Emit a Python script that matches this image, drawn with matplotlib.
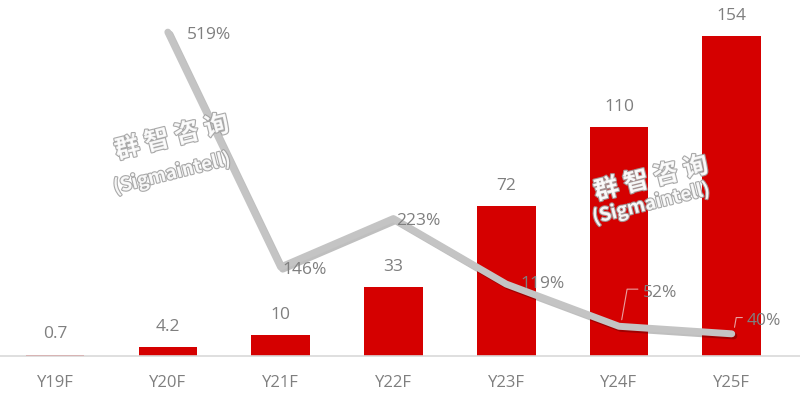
import numpy as np
import matplotlib

matplotlib.use("Agg")
import matplotlib.pyplot as plt
import matplotlib.patheffects as pe

plt.rcParams["font.family"] = ["Open Sans", "Noto Sans CJK SC", "DejaVu Sans"]

years = ["Y19F", "Y20F", "Y21F", "Y22F", "Y23F", "Y24F", "Y25F"]
shipments = [0.7, 4.2, 10, 33, 72, 110, 154]
growth = [519, 146, 223, 119, 52, 40]   # Y20F .. Y25F
growth_labels = ["519%", "146%", "223%", "119%", "52%", "40%"]

RED = "#d50000"
GREY_TXT = "#7f7f7f"
LINE = "#c4c4c4"

fig = plt.figure(figsize=(8.0, 4.03), dpi=100)
ax = fig.add_axes([0, 47 / 403, 1, 356 / 403])
x = np.arange(len(years))

ax.bar(x, shipments, width=0.52, color=RED, zorder=2)
for xi, v in zip(x, shipments):
    ax.text(xi, v + 5.8, f"{v:g}", ha="center", va="bottom", fontsize=12.5,
            color=GREY_TXT)

ax.set_xlim(-0.488, 6.605)
ax.set_ylim(0, 171.3)
for s in ("top", "right", "left"):
    ax.spines[s].set_visible(False)
ax.spines["bottom"].set_color("#d9d9d9")
ax.spines["bottom"].set_linewidth(1.2)
ax.set_yticks([])
ax.set_xticks(x)
ax.set_xticklabels(years, fontsize=12, color=GREY_TXT)
ax.tick_params(axis="x", length=0, pad=14)

ax2 = ax.twinx()
ax2.set_ylim(4.8, 570)
ax2.axis("off")
xg = x[1:]
ax2.plot(xg, growth, color=LINE, lw=5, solid_joinstyle="round",
         solid_capstyle="round", zorder=3,
         path_effects=[pe.SimpleLineShadow(offset=(1.5, -1.5), alpha=0.25),
                       pe.Normal()])

# growth labels (offsets in points)
offsets = [(14, -2), (1, -2), (2, -2), (10, 0), (17, 24), (11, 9)]
for xi, g, lab, (dx, dy) in zip(xg, growth, growth_labels, offsets):
    ax2.annotate(lab, (xi, g), xytext=(dx, dy), textcoords="offset points",
                 ha="left", va="center", fontsize=12.5, color=GREY_TXT, zorder=4)
# leader lines for the last two labels
for xi, g, (dx, dy) in [(xg[4], growth[4], (17, 24)), (xg[5], growth[5], (11, 9))]:
    ax2.annotate("", (xi + 0.02, g + 6), xytext=(dx - 3, dy), textcoords="offset points",
                 arrowprops=dict(arrowstyle="-", color="#e8a0a0", lw=0.8,
                                 connectionstyle="angle,angleA=0,angleB=80,rad=0"))

# watermarks
for (fx, fy, sy) in [(0.215, 0.658, 0.571), (0.814, 0.556, 0.496)]:
    for txt, yy, fs in [("群 智 咨 询", fy, 18), ("(Sigmaintell)", sy, 13.5)]:
        fig.text(fx, yy, txt, rotation=14, ha="center", va="center",
                 fontsize=fs, fontweight="bold", color="white", alpha=0.9,
                 family=["Noto Sans CJK SC", "DejaVu Sans"],
                 path_effects=[pe.withStroke(linewidth=1.6, foreground="#a0a0a0")],
                 zorder=10)

fig.savefig("out.png", dpi=100)
